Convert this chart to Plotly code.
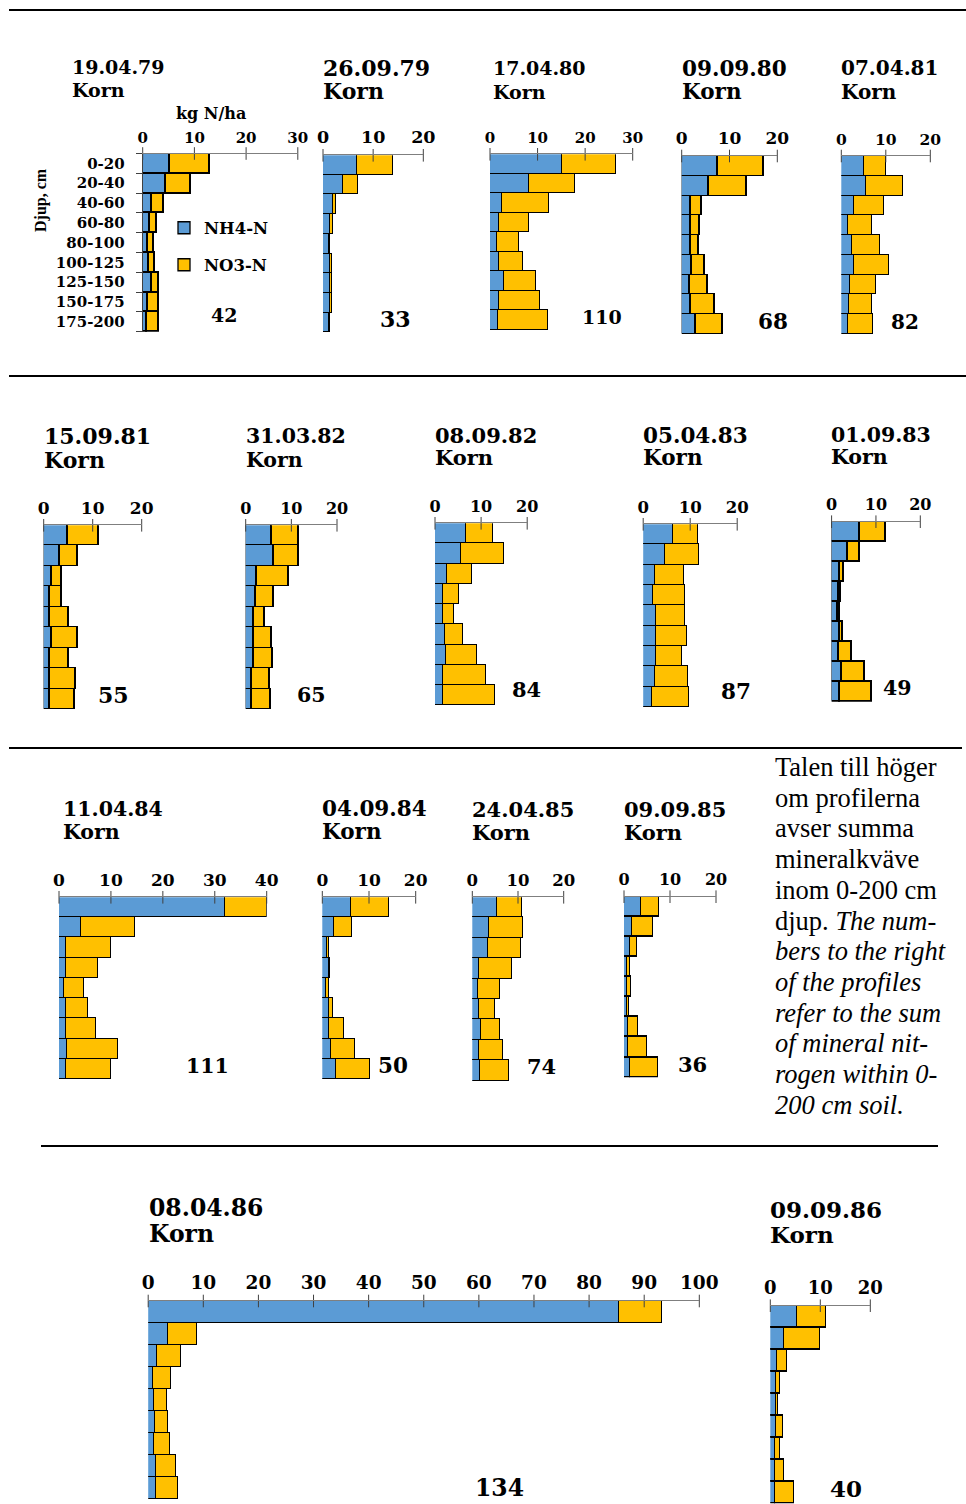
import plotly.graph_objects as go

W, H = 966, 1504

depths = ["0-20", "20-40", "40-60", "60-80", "80-100",
          "100-125", "125-150", "150-175", "175-200"]

# Mineral nitrogen per soil layer, kg N/ha
nh4_190479 = [5.3, 4.5, 1.7, 1.3, 1.0, 1.2, 1.8, 0.9, 0.8]
no3_190479 = [7.6, 4.7, 2.3, 1.4, 1.1, 1.1, 1.3, 2.1, 2.3]
nh4_260979 = [6.7, 3.9, 1.9, 1.4, 1.1, 1.4, 1.4, 1.3, 1.1]
no3_260979 = [7.2, 3.1, 0.7, 0.5, 0.3, 0.3, 0.4, 0.4, 0.3]
nh4_170480 = [15.1, 8.3, 2.6, 1.8, 1.4, 1.8, 2.9, 1.8, 1.7]
no3_170480 = [11.3, 9.6, 9.7, 6.5, 4.6, 5.2, 6.8, 8.8, 10.4]
nh4_090980 = [7.5, 5.6, 1.8, 1.9, 1.8, 2.0, 1.7, 1.9, 2.9]
no3_090980 = [9.6, 7.9, 2.4, 1.8, 1.7, 2.9, 3.7, 4.9, 5.7]
nh4_070481 = [5.2, 5.7, 3.0, 1.6, 2.5, 3.0, 2.1, 1.7, 1.6]
no3_070481 = [4.8, 8.3, 6.7, 5.3, 6.3, 7.7, 5.7, 5.3, 5.5]
nh4_150981 = [4.9, 3.2, 1.7, 1.2, 1.2, 1.6, 1.2, 1.3, 1.3]
no3_150981 = [6.3, 3.7, 1.9, 2.5, 3.8, 5.4, 3.8, 5.2, 5.0]
nh4_310382 = [5.6, 6.1, 2.3, 2.2, 1.7, 1.7, 1.8, 1.3, 1.3]
no3_310382 = [5.9, 5.5, 7.1, 4.0, 2.5, 3.9, 4.1, 3.9, 4.1]
nh4_080982 = [6.7, 5.6, 2.6, 1.7, 1.7, 2.2, 2.3, 1.8, 1.8]
no3_080982 = [5.8, 9.4, 5.5, 3.4, 2.5, 3.8, 6.9, 9.2, 11.3]
nh4_050483 = [6.3, 4.7, 2.6, 2.1, 2.7, 2.8, 2.7, 2.6, 1.9]
no3_050483 = [5.3, 7.2, 6.1, 6.9, 6.2, 6.6, 5.7, 7.0, 7.8]
nh4_010983 = [6.3, 3.5, 1.8, 1.6, 1.4, 1.7, 1.6, 2.2, 1.9]
no3_010983 = [5.9, 2.9, 0.9, 0.5, 0.4, 0.7, 2.9, 5.3, 7.2]
nh4_110484 = [31.9, 4.2, 1.3, 1.3, 1.0, 1.3, 1.4, 1.5, 1.4]
no3_110484 = [8.1, 10.5, 8.7, 6.2, 3.9, 4.2, 5.7, 9.8, 8.6]
nh4_040984 = [6.3, 2.6, 1.1, 1.4, 0.8, 1.6, 1.6, 1.9, 3.0]
no3_040984 = [8.0, 3.9, 0.5, 0.3, 0.6, 0.8, 3.1, 5.2, 7.3]
nh4_240485 = [5.5, 3.8, 3.4, 1.5, 1.4, 1.6, 2.0, 1.5, 1.7]
no3_240485 = [5.5, 7.4, 7.4, 7.2, 4.8, 3.4, 4.2, 5.3, 6.5]
nh4_090985 = [3.6, 1.8, 1.4, 0.7, 0.7, 0.6, 0.9, 0.9, 1.3]
no3_090985 = [3.9, 4.4, 1.4, 0.5, 0.9, 0.4, 2.2, 4.1, 6.1]
nh4_080486 = [85.4, 3.6, 1.6, 0.9, 1.0, 1.2, 1.1, 1.4, 1.4]
no3_080486 = [7.8, 5.3, 4.4, 3.3, 2.4, 2.4, 2.9, 3.6, 4.1]
nh4_090986 = [5.3, 2.8, 1.3, 1.1, 1.1, 1.2, 0.9, 0.9, 0.9]
no3_090986 = [5.9, 7.2, 2.1, 0.9, 0.4, 1.3, 1.0, 1.8, 3.8]

# date, NH4, NO3, axis maximum
panels = [
    ("19.04.79", nh4_190479, no3_190479, 30),
    ("26.09.79", nh4_260979, no3_260979, 20),
    ("17.04.80", nh4_170480, no3_170480, 30),
    ("09.09.80", nh4_090980, no3_090980, 20),
    ("07.04.81", nh4_070481, no3_070481, 20),
    ("15.09.81", nh4_150981, no3_150981, 20),
    ("31.03.82", nh4_310382, no3_310382, 20),
    ("08.09.82", nh4_080982, no3_080982, 20),
    ("05.04.83", nh4_050483, no3_050483, 20),
    ("01.09.83", nh4_010983, no3_010983, 20),
    ("11.04.84", nh4_110484, no3_110484, 40),
    ("04.09.84", nh4_040984, no3_040984, 20),
    ("24.04.85", nh4_240485, no3_240485, 20),
    ("09.09.85", nh4_090985, no3_090985, 20),
    ("08.04.86", nh4_080486, no3_080486, 100),
    ("09.09.86", nh4_090986, no3_090986, 20),
]
crop = "Korn"

# --- layout (pixels) ---
# x of zero, x of axis max, top of axis, bottom of last layer
frames = [
    (142.7, 297.8, 153.5, 331.7),
    (323.0, 423.3, 155.3, 332.7),
    (490.0, 632.7, 154.3, 330.0),
    (681.7, 777.3, 156.0, 334.0),
    (841.3, 930.3, 156.0, 334.0),
    (43.7, 141.7, 525.3, 709.3),
    (245.7, 337.0, 525.3, 709.3),
    (435.0, 527.2, 523.3, 705.7),
    (643.2, 737.2, 524.3, 707.3),
    (831.6, 920.3, 521.7, 701.7),
    (59.0, 266.7, 897.3, 1079.3),
    (322.3, 415.7, 897.3, 1079.3),
    (472.3, 563.7, 897.3, 1081.0),
    (624.0, 716.0, 896.7, 1077.3),
    (148.2, 699.3, 1301.0, 1499.3),
    (770.3, 870.3, 1305.7, 1503.3),
]
# title left, date line centre, crop line centre
title_at = [
    (70.0, 67.3, 90.0), (321.0, 67.6, 91.4), (491.3, 68.2, 91.7),
    (679.7, 68.2, 91.7), (839.0, 68.2, 91.7),
    (41.7, 435.5, 459.5), (243.7, 435.5, 459.5), (432.6, 435.5, 457.8),
    (640.8, 435.5, 457.8), (828.9, 434.5, 456.7),
    (61.3, 808.7, 831.7), (320.3, 808.7, 831.7), (470.3, 809.7, 832.2),
    (622.0, 809.7, 832.2),
    (146.6, 1208.4, 1234.4), (768.0, 1209.5, 1234.2),
]
# centre of the profile total
sum_at = [
    (224.0, 315.0), (395.0, 319.3), (601.7, 316.7), (773.3, 321.7), (905.0, 321.7),
    (113.3, 695.0), (311.0, 695.0), (526.2, 690.0), (736.2, 691.7), (897.7, 688.3),
    (207.7, 1066.0), (392.7, 1065.0), (541.0, 1066.7), (692.7, 1064.0),
    (499.6, 1488.3), (846.0, 1488.3),
]
title_size = [19, 22, 19, 21.5, 20, 22, 20.5, 21, 21.5, 20.5,
              20.5, 21.5, 21, 21, 23.5, 23]
tick_size = [15, 17.5, 15, 17, 15.5, 17, 16, 16, 16.5, 16,
             17, 17, 16.5, 16, 18.5, 18]

NH4_COLOR = "#5B9BD5"
NO3_COLOR = "#FFC000"
SERIF_B = "DejaVu Serif"


def px(x):
    return x / W


def py(y):
    return 1 - y / H


fig = go.Figure()
axes = {}
annotations = []
rows = list(range(len(depths)))

for i, ((date, nh4, no3, xmax), (x0, x1, yt, yb)) in enumerate(zip(panels, frames)):
    n = i + 1
    xa = "x" if n == 1 else f"x{n}"
    ya = "y" if n == 1 else f"y{n}"
    first = i == 0
    bar_line = dict(color="black", width=1.3)
    fig.add_trace(go.Bar(
        y=rows, x=nh4, orientation="h", xaxis=xa, yaxis=ya,
        name="NH4-N", legend="legend", showlegend=first,
        marker=dict(color=NH4_COLOR, line=bar_line), hoverinfo="skip"))
    fig.add_trace(go.Bar(
        y=rows, x=no3, orientation="h", xaxis=xa, yaxis=ya,
        name="NO3-N", legend="legend2", showlegend=first,
        marker=dict(color=NO3_COLOR, line=bar_line), hoverinfo="skip"))
    ticks = list(range(0, xmax + 1, 10))
    # tick marks crossing the top axis line
    fig.add_trace(go.Scatter(
        x=ticks, y=[-0.5] * len(ticks), mode="markers", xaxis=xa, yaxis=ya,
        marker=dict(symbol="line-ns", size=9, line=dict(color="#404040", width=1)),
        cliponaxis=False, showlegend=False, hoverinfo="skip"))

    axes["xaxis" if n == 1 else f"xaxis{n}"] = dict(
        domain=[px(x0), px(x1)], range=[0, xmax], anchor=ya, side="top",
        tickvals=ticks, ticks="", showline=True, linecolor="#7f7f7f",
        linewidth=1, showgrid=False, zeroline=False, ticklabelstandoff=4,
        automargin=False,
        tickfont=dict(family=SERIF_B, size=tick_size[i], color="black",
                      weight="bold"))
    yax = dict(
        domain=[py(yb), py(yt)], range=[len(depths) - 0.5, -0.5], anchor=xa,
        showgrid=False, zeroline=False, showticklabels=False, ticks="",
        automargin=False)
    if first:
        yax.update(
            showline=True, linecolor="#404040", linewidth=1,
            showticklabels=True, tickvals=rows, ticktext=depths,
            ticklabelstandoff=14,
            tickfont=dict(family=SERIF_B, size=15, color="black", weight="bold"),
            minor=dict(tick0=-0.5, dtick=1, ticks="outside", ticklen=6,
                       tickcolor="#404040", tickwidth=1))
    axes["yaxis" if n == 1 else f"yaxis{n}"] = yax

    tl, dy, ky = title_at[i]
    for txt, yy in ((date, dy), (crop, ky)):
        annotations.append(dict(
            text=txt, x=px(tl), y=py(yy), xref="paper", yref="paper",
            xanchor="left", yanchor="middle", showarrow=False,
            font=dict(family=SERIF_B, size=title_size[i], color="black",
                      weight="bold")))
    total = round(sum(nh4) + sum(no3))
    sx, sy = sum_at[i]
    annotations.append(dict(
        text=str(total), x=px(sx), y=py(sy), xref="paper", yref="paper",
        xanchor="center", yanchor="middle", showarrow=False,
        font=dict(family=SERIF_B, size=title_size[i], color="black",
                  weight="bold")))

# axis captions of the first profile
annotations.append(dict(
    text="kg N/ha", x=px(211), y=py(113), xref="paper", yref="paper",
    xanchor="center", yanchor="middle", showarrow=False,
    font=dict(family=SERIF_B, size=16, color="black", weight="bold")))
annotations.append(dict(
    text="Djup, cm", x=px(41), y=py(200), xref="paper", yref="paper",
    xanchor="center", yanchor="middle", showarrow=False, textangle=-90,
    font=dict(family="Liberation Serif", size=16, color="black",
              weight="bold")))

# explanatory note
note = [
    "Talen till höger", "om profilerna", "avser summa", "mineralkväve",
    "inom 0-200 cm", "djup. <i>The num-</i>", "<i>bers to the right</i>",
    "<i>of the profiles</i>", "<i>refer to the sum</i>",
    "<i>of mineral nit-</i>", "<i>rogen within 0-</i>", "<i>200 cm soil.</i>",
]
for k, line in enumerate(note):
    annotations.append(dict(
        text=line, x=px(773), y=py(767 + 30.7 * k), xref="paper",
        yref="paper", xanchor="left", yanchor="middle", showarrow=False,
        font=dict(family="Liberation Serif", size=26.5, color="black")))

# horizontal rules between the rows of profiles
rules = [(9, 966, 10), (9, 966, 376), (9, 962, 748), (41, 938, 1146)]
shapes = [dict(type="line", xref="paper", yref="paper",
               x0=px(a), x1=px(b), y0=py(y), y1=py(y),
               line=dict(color="black", width=2)) for a, b, y in rules]

legend_style = dict(
    xanchor="left", yanchor="middle", bgcolor="rgba(0,0,0,0)",
    font=dict(family=SERIF_B, size=16.5, color="black", weight="bold"),
    itemclick=False, itemdoubleclick=False)

fig.update_layout(
    width=W, height=H,
    margin=dict(l=0, r=0, t=0, b=0, pad=0, autoexpand=False),
    paper_bgcolor="white", plot_bgcolor="white",
    barmode="stack", bargap=0, bargroupgap=0, hovermode=False,
    annotations=annotations, shapes=shapes,
    legend=dict(x=px(164), y=py(228), **legend_style),
    legend2=dict(x=px(164), y=py(265), **legend_style),
    **axes)

fig.write_html("out.html")
